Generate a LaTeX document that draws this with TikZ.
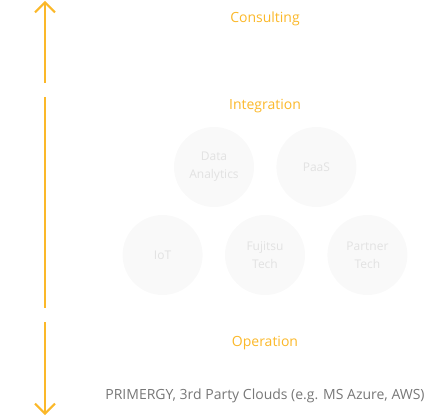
\documentclass[tikz,border=0pt]{standalone}
\usepackage{fontspec}
\setmainfont{Open Sans}
\usepackage{xcolor}
\definecolor{ora00}{HTML}{FBB829}
\definecolor{gry00}{HTML}{F9F9F9}
\definecolor{gry01}{HTML}{E2E2E2}
\definecolor{gry02}{HTML}{777777}
\usepackage{tikz}
\usetikzlibrary{calc}
\usetikzlibrary{positioning}
\usetikzlibrary{arrows.meta}
\tikzstyle{phase} = [text=ora00, font=\fontsize{14}{16}\selectfont, inner sep=0pt]
\tikzstyle{offer} = [circle, minimum size=80pt, inner sep=0pt, align=center, fill=gry00, text=gry01, font=\fontsize{12}{18}\selectfont]
\tikzstyle{base_txt} = [text=gry02, font=\fontsize{14}{16}\selectfont, inner sep=0pt]
\tikzstyle{phase_arr} = [line width=2pt, ora00]

\begin{document}
\begin{tikzpicture}[x=1pt,y=-1pt]
        \useasboundingbox (0,0) rectangle (425,417);
        \node (p1)[phase] at (265,19){Consulting};
        \node (p2)[phase] at (265,106){Integration};
        \node (p3)[phase] at (265,343){Operation};
        \node (b1)[base_txt] at (265,396){PRIMERGY, 3rd Party Clouds (e.g. MS Azure, AWS)};
        \node (c1)[offer] at (214,167){Data\\Analytics};
        \node (c2)[offer,right=22pt of c1]{PaaS};
        \node (c4)[offer] at (265,255){Fujitsu\\Tech};
        \node (c3)[offer,left=22pt of c4]{IoT};
        \node (c5)[offer,right=22pt of c4]{Partner\\Tech};
        \coordinate (a1) at (45,1);
        \coordinate (a2) at (45,83);
        \coordinate (a3) at (45,97);
        \coordinate (a4) at (45,308);
        \coordinate (a5) at (45,322);
        \coordinate (a6) at (45,415);
        \draw [phase_arr,-{Straight Barb[length=10pt,width=20pt,line width=2pt]}] (a2) -- (a1);
        \draw [phase_arr] (a3) -- (a4);
        \draw [phase_arr,-{Straight Barb[length=10pt,width=20pt,line width=2pt]}] (a5) -- (a6);
    \end{tikzpicture}
\end{document}
